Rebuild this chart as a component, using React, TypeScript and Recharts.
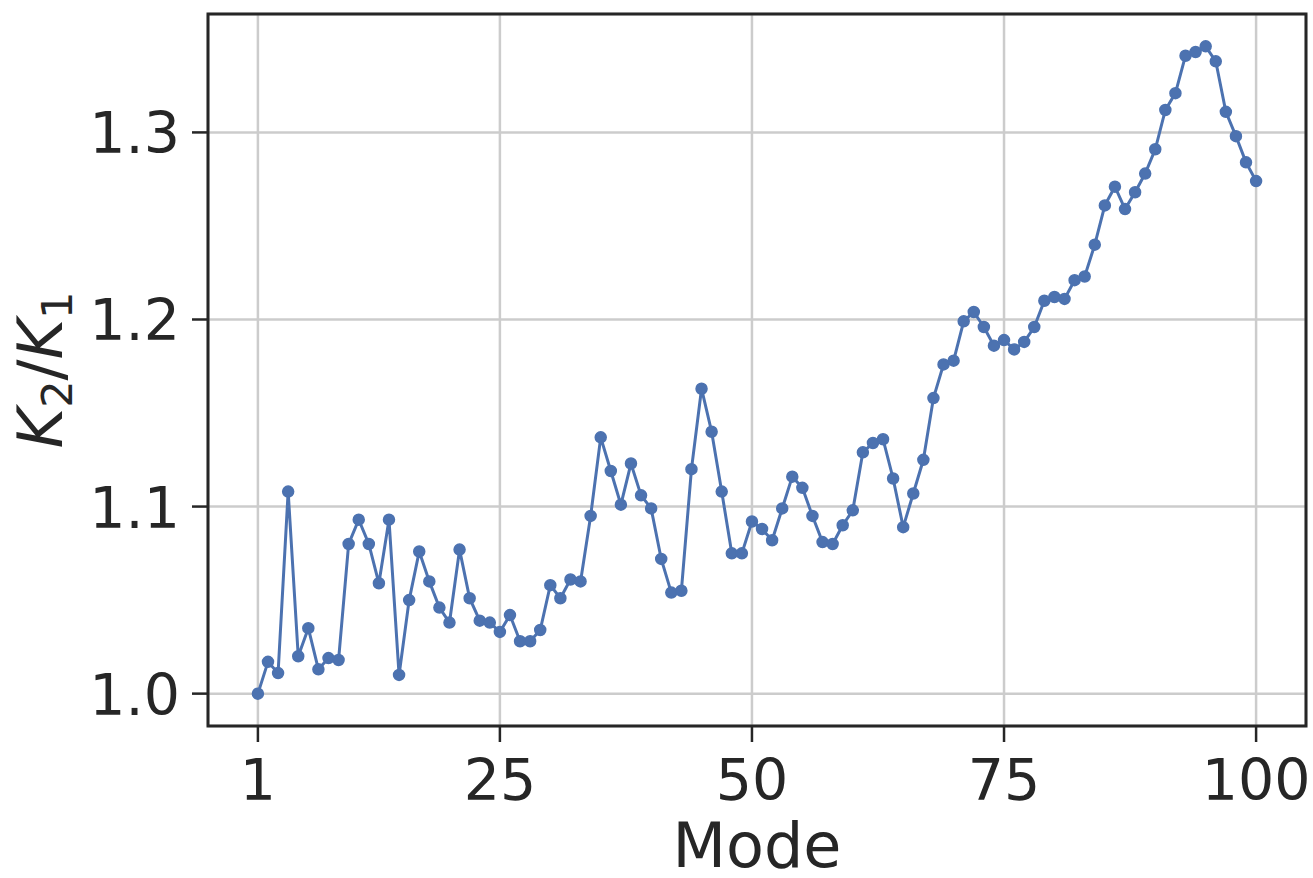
import { LineChart, Line, XAxis, YAxis, CartesianGrid, ReferenceArea } from 'recharts';

const modes = Array.from({ length: 100 }, (_, i) => i + 1);

const ratios = [
  1.0, 1.017, 1.011, 1.108, 1.02, 1.035, 1.013, 1.019, 1.018, 1.08,
  1.093, 1.08, 1.059, 1.093, 1.01, 1.05, 1.076, 1.06, 1.046, 1.038,
  1.077, 1.051, 1.039, 1.038, 1.033, 1.042, 1.028, 1.028, 1.034, 1.058,
  1.051, 1.061, 1.06, 1.095, 1.137, 1.119, 1.101, 1.123, 1.106, 1.099,
  1.072, 1.054, 1.055, 1.12, 1.163, 1.14, 1.108, 1.075, 1.075, 1.092,
  1.088, 1.082, 1.099, 1.116, 1.11, 1.095, 1.081, 1.08, 1.09, 1.098,
  1.129, 1.134, 1.136, 1.115, 1.089, 1.107, 1.125, 1.158, 1.176, 1.178,
  1.199, 1.204, 1.196, 1.186, 1.189, 1.184, 1.188, 1.196, 1.21, 1.212,
  1.211, 1.221, 1.223, 1.24, 1.261, 1.271, 1.259, 1.268, 1.278, 1.291,
  1.312, 1.321, 1.341, 1.343, 1.346, 1.338, 1.311, 1.298, 1.284, 1.274,
];

const xTicks = [1, 25, 50, 75, 100];
const yTicks = [1.0, 1.1, 1.2, 1.3];

const data = modes.map((m, i) => ({ mode: m, ratio: ratios[i] }));

const INK = '#262626';
const BLUE = '#4c72b0';
const FONT = '"DejaVu Sans", sans-serif';

// matplotlib-style 5% margins around the data
const X_DOMAIN: [number, number] = [-3.95, 104.95];
const Y_DOMAIN: [number, number] = [0.9827, 1.3633];

function XTick(props: any) {
  const { x, payload } = props;
  return (
    <text x={x} y={800} textAnchor="middle" fontSize={57} fill={INK} fontFamily={FONT}>
      {payload.value}
    </text>
  );
}

function YTick(props: any) {
  const { y, payload } = props;
  return (
    <text x={180} y={y + 21} textAnchor="end" fontSize={57} fill={INK} fontFamily={FONT}>
      {Number(payload.value).toFixed(1)}
    </text>
  );
}

export default function App() {
  return (
    <div style={{ position: 'absolute', left: 0, top: 0, background: '#fff' }}>
      <LineChart
        width={1313}
        height={878}
        data={data}
        margin={{ top: 14, right: 7, bottom: 0, left: 0 }}
      >
        <CartesianGrid stroke="#cccccc" strokeWidth={2.5} />
        <XAxis
          dataKey="mode"
          type="number"
          domain={X_DOMAIN}
          ticks={xTicks}
          allowDataOverflow
          height={152}
          tickSize={16}
          tick={<XTick />}
          tickLine={{ stroke: INK, strokeWidth: 2.5 }}
          axisLine={false}
          label={{
            content: () => (
              <text x={757} y={867} textAnchor="middle" fontSize={62} fill={INK} fontFamily={FONT}>
                Mode
              </text>
            ),
          }}
        />
        <YAxis
          type="number"
          domain={Y_DOMAIN}
          ticks={yTicks}
          allowDataOverflow
          width={208}
          tickSize={16}
          tick={<YTick />}
          tickLine={{ stroke: INK, strokeWidth: 2.5 }}
          axisLine={false}
          label={{
            content: () => (
              <text
                transform="translate(62,370) rotate(-90)"
                textAnchor="middle"
                fontSize={62}
                fill={INK}
                fontFamily={FONT}
              >
                <tspan fontStyle="italic">K</tspan>
                <tspan fontSize={43} dy={10}>2</tspan>
                <tspan dy={-10}>/</tspan>
                <tspan fontStyle="italic">K</tspan>
                <tspan fontSize={43} dy={10}>1</tspan>
              </text>
            ),
          }}
        />
        <Line
          dataKey="ratio"
          stroke={BLUE}
          strokeWidth={3}
          dot={{ r: 5.5, fill: BLUE, stroke: BLUE, strokeWidth: 1.5 }}
          isAnimationActive={false}
        />
        <ReferenceArea
          x1={X_DOMAIN[0]}
          x2={X_DOMAIN[1]}
          y1={Y_DOMAIN[0]}
          y2={Y_DOMAIN[1]}
          fill="none"
          stroke={INK}
          strokeWidth={3}
          ifOverflow="visible"
        />
      </LineChart>
    </div>
  );
}
